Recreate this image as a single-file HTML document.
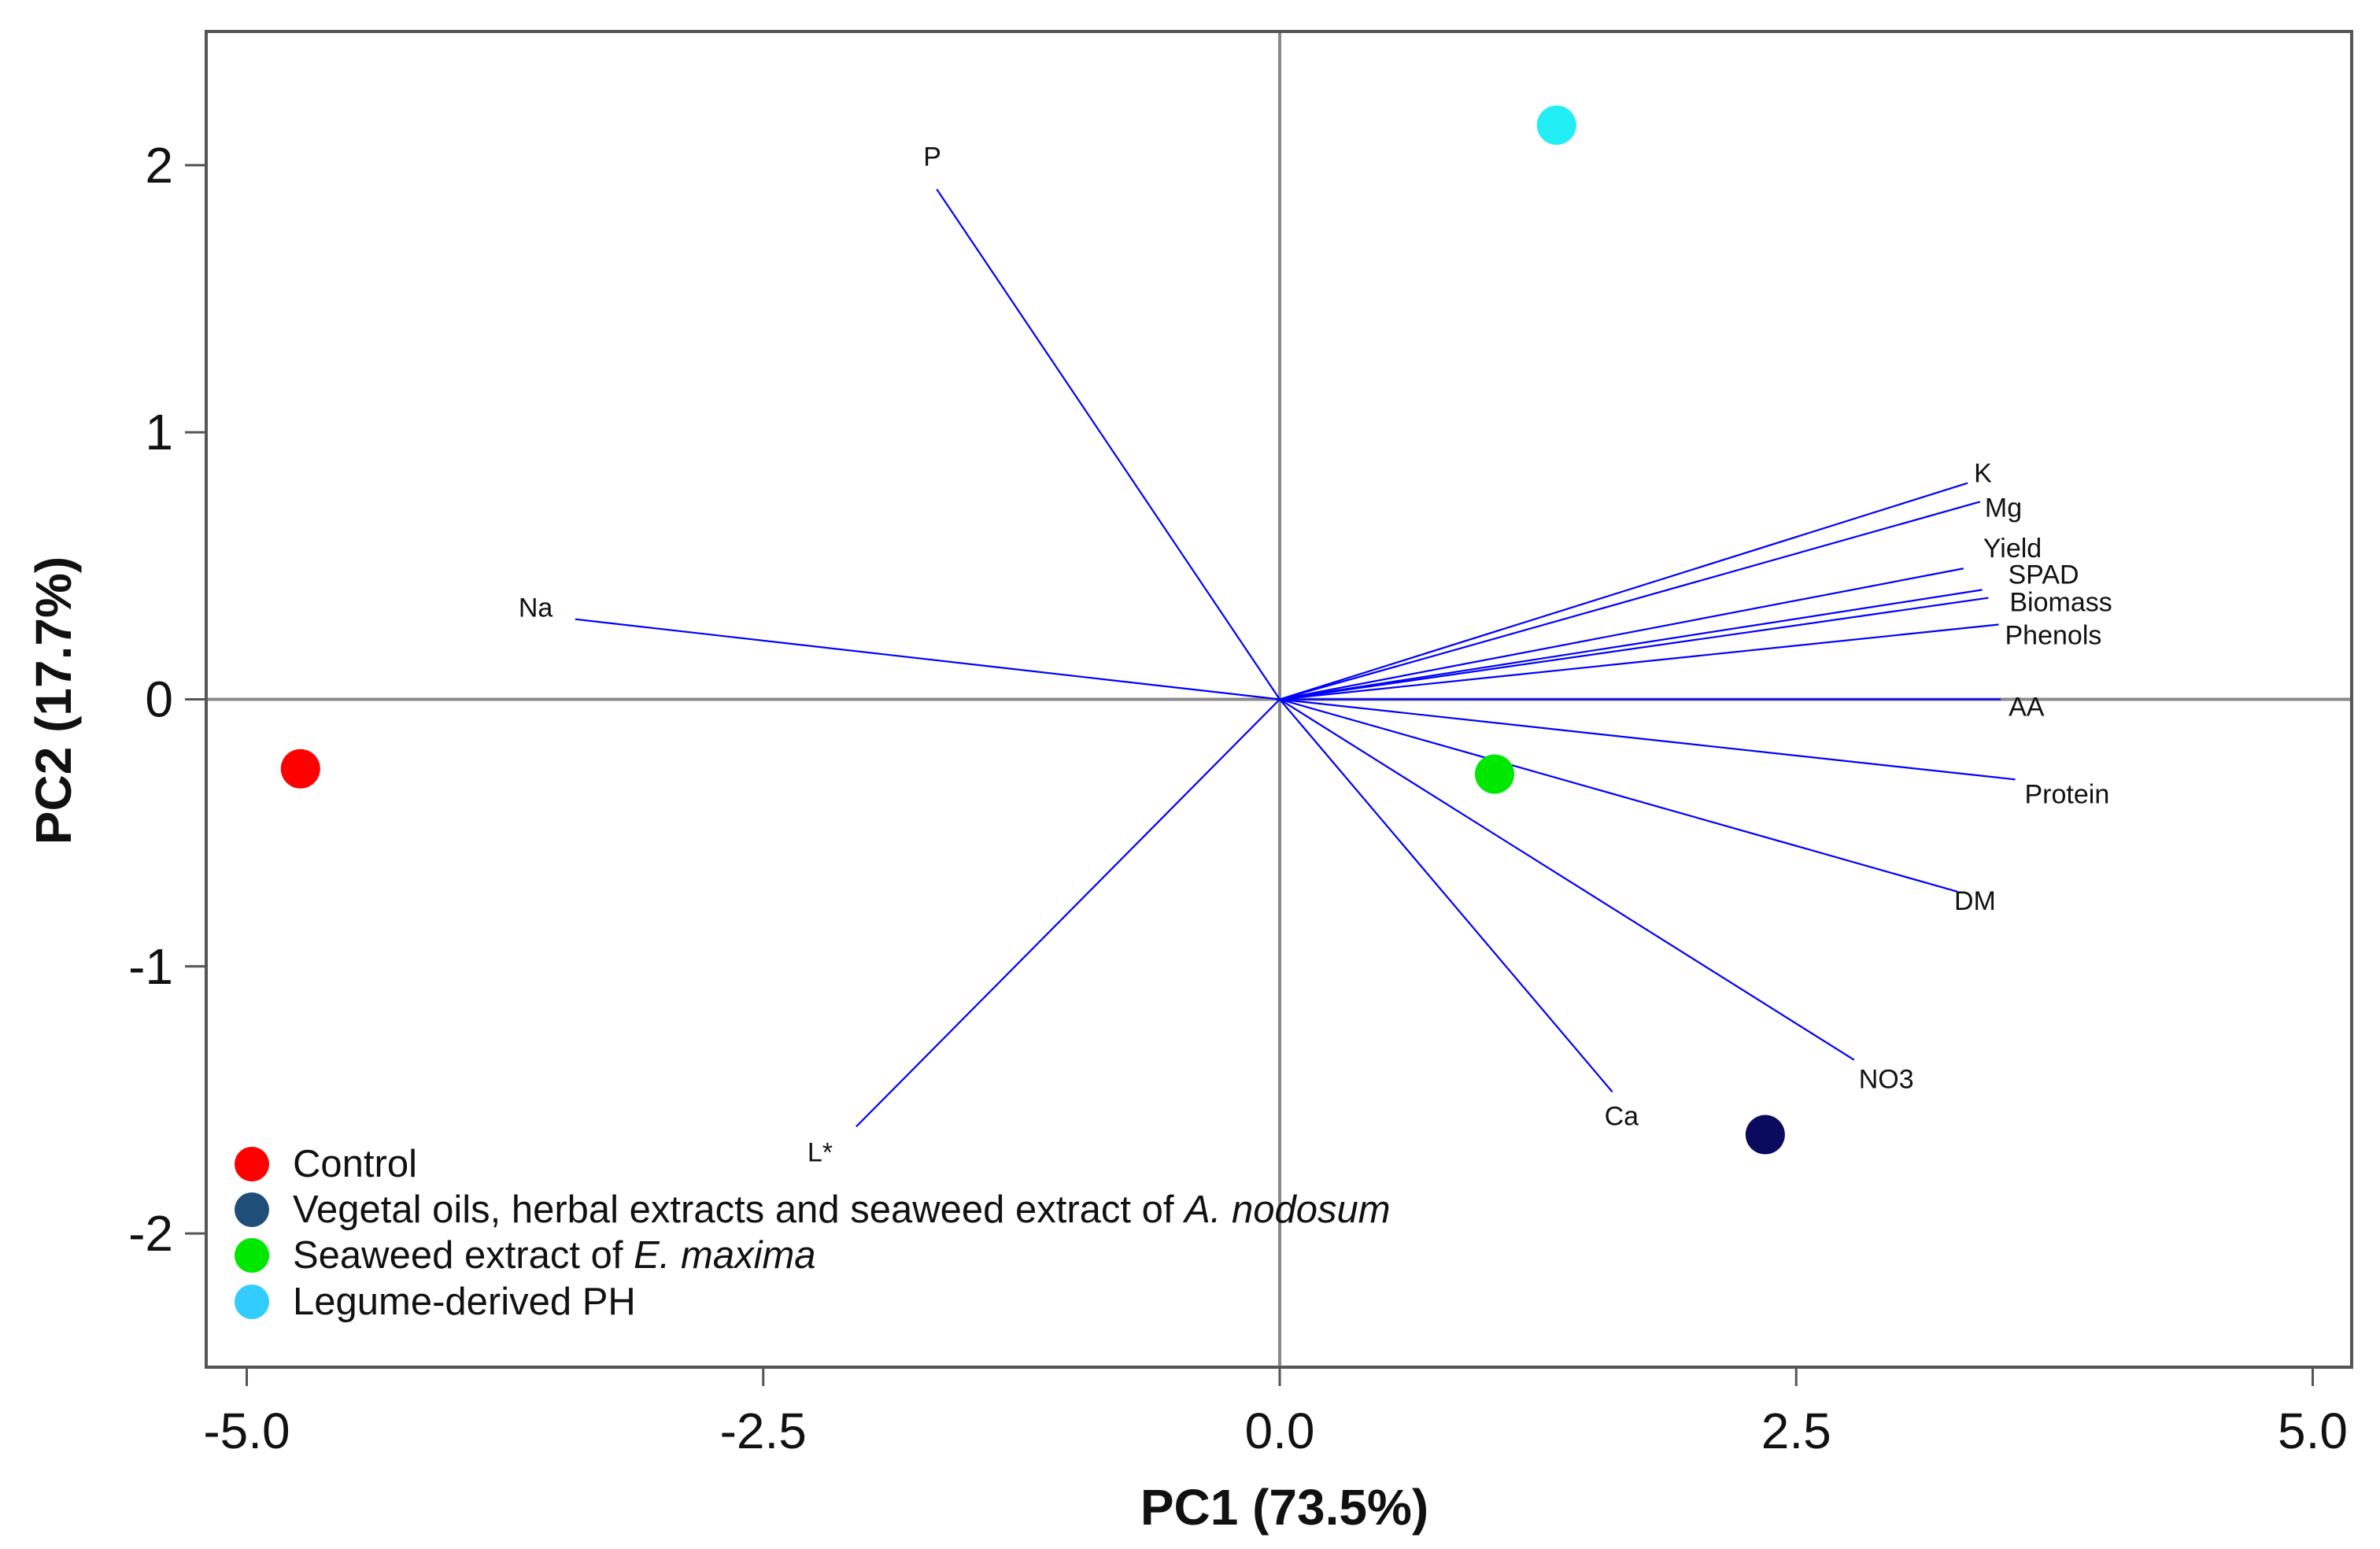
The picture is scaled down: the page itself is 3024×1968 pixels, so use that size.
<!DOCTYPE html>
<html><head><meta charset="utf-8"><style>
html,body{margin:0;padding:0;background:#fff;}
svg{display:block;font-family:"Liberation Sans",sans-serif;}
</style></head><body>
<svg id="chart" width="3024" height="1968" viewBox="0 0 3024 1968" xmlns="http://www.w3.org/2000/svg">
<g id="grid"></g><g id="vectors"></g><g id="points"></g><g id="axes"></g><g id="legend"></g>
</svg>
<script>
const xTicks = [-5.0, -2.5, 0.0, 2.5, 5.0];
const xTickLabels = ["-5.0", "-2.5", "0.0", "2.5", "5.0"];
const yTicks = [-2, -1, 0, 1, 2];
const yTickLabels = ["-2", "-1", "0", "1", "2"];
const varNames = ["P","Na","L*","Ca","NO3","DM","Protein","AA","Phenols","Biomass","SPAD","Yield","Mg","K"];
const varPC1 = [-1.66,-3.41,-2.05,1.61,2.78,3.28,3.56,3.49,3.48,3.43,3.40,3.31,3.39,3.33];
const varPC2 = [1.91,0.30,-1.60,-1.47,-1.35,-0.72,-0.30,0.0,0.28,0.38,0.41,0.49,0.74,0.81];
const labelDx = [-17,-72,-62,-10,6,-4,12,10,8,27,33,25,6,8];
const labelDy = [-41,-14,33,31,25,12,19,10,14,6,-19,-25,8,-12];
const groupNames = ["Control","Vegetal oils, herbal extracts and seaweed extract of A. nodosum","Seaweed extract of E. maxima","Legume-derived PH"];
const groupPC1 = [-4.74, 2.35, 1.04, 1.34];
const groupPC2 = [-0.26, -1.63, -0.28, 2.15];
const groupColors = ["#ff0000","#0a0a5e","#00e800","#22eef5"];
const legendColors = ["#ff0000","#1f4e79","#00e800","#33ccff"];

const L=262,R=2988,T=40,B=1737;
const X0=1626, UX=262.5, Y0=888.5, UY=339.3;
const sx=v=>X0+v*UX, sy=v=>Y0-v*UY;
const NS="http://www.w3.org/2000/svg";
function mk(tag,parent,attrs){const e=document.createElementNS(NS,tag);for(const k in attrs)e.setAttribute(k,attrs[k]);parent.appendChild(e);return e;}
const grid=document.getElementById('grid'),vec=document.getElementById('vectors'),pts=document.getElementById('points'),ax=document.getElementById('axes'),lg=document.getElementById('legend');

let e;
e=mk('line',grid,{x1:L,x2:R,y1:sy(0),y2:sy(0),stroke:'#8a8a8a','stroke-width':4});


e=mk('line',grid,{x1:sx(0),x2:sx(0),y1:T,y2:B,stroke:'#8a8a8a','stroke-width':4});



varNames.forEach((n,i)=>{
  const x=sx(varPC1[i]),y=sy(varPC2[i]);
  let l=mk('line',vec,{x1:sx(0),y1:sy(0),x2:x,y2:y,stroke:'#0000ff','stroke-width':2.2});
  
  
  let t=mk('text',vec,{x:x+labelDx[i],y:y+labelDy[i],'font-size':34,fill:'#111','dominant-baseline':'central'});
  t.textContent=n;
  
  
});

groupNames.forEach((n,i)=>{
  let c=mk('circle',pts,{cx:sx(groupPC1[i]),cy:sy(groupPC2[i]),r:25,fill:groupColors[i]});
  
  
});

e=mk('rect',ax,{x:L,y:T,width:R-L,height:B-T,fill:'none',stroke:'#555','stroke-width':4});



xTicks.forEach((v,i)=>{
  let t=mk('line',ax,{x1:sx(v),x2:sx(v),y1:B,y2:B+24,stroke:'#555','stroke-width':3});
  
  
  let s=mk('text',ax,{x:sx(v),y:1818,'font-size':64,'text-anchor':'middle','dominant-baseline':'central',fill:'#111'});
  s.textContent=xTickLabels[i];
  
  
});
yTicks.forEach((v,i)=>{
  let t=mk('line',ax,{x1:235,x2:L,y1:sy(v),y2:sy(v),stroke:'#555','stroke-width':3});
  
  
  let s=mk('text',ax,{x:220,y:sy(v),'font-size':64,'text-anchor':'end','dominant-baseline':'central',fill:'#111'});
  s.textContent=yTickLabels[i];
  
  
});

e=mk('text',ax,{x:1632,y:1915,'font-size':64,'font-weight':'bold','text-anchor':'middle','dominant-baseline':'central',fill:'#111'});
e.textContent='PC1 (73.5%)';


e=mk('text',ax,{x:68,y:890,'font-size':64,'font-weight':'bold','text-anchor':'middle','dominant-baseline':'central',fill:'#111',transform:'rotate(-90 68 890)'});
e.textContent='PC2 (17.7%)';



const legY=[1479,1537,1595,1654];
groupNames.forEach((n,i)=>{
  let g=mk('g',lg,{});
  
  
  mk('circle',g,{cx:320,cy:legY[i],r:22,fill:legendColors[i]});
  let t=mk('text',g,{x:372,y:legY[i],'font-size':49,'dominant-baseline':'central',fill:'#111'});
  if(i===1){t.innerHTML='Vegetal oils, herbal extracts and seaweed extract of <tspan font-style="italic">A. nodosum</tspan>';}
  else if(i===2){t.innerHTML='Seaweed extract of <tspan font-style="italic">E. maxima</tspan>';}
  else t.textContent=n;
});
</script>
</body></html>
